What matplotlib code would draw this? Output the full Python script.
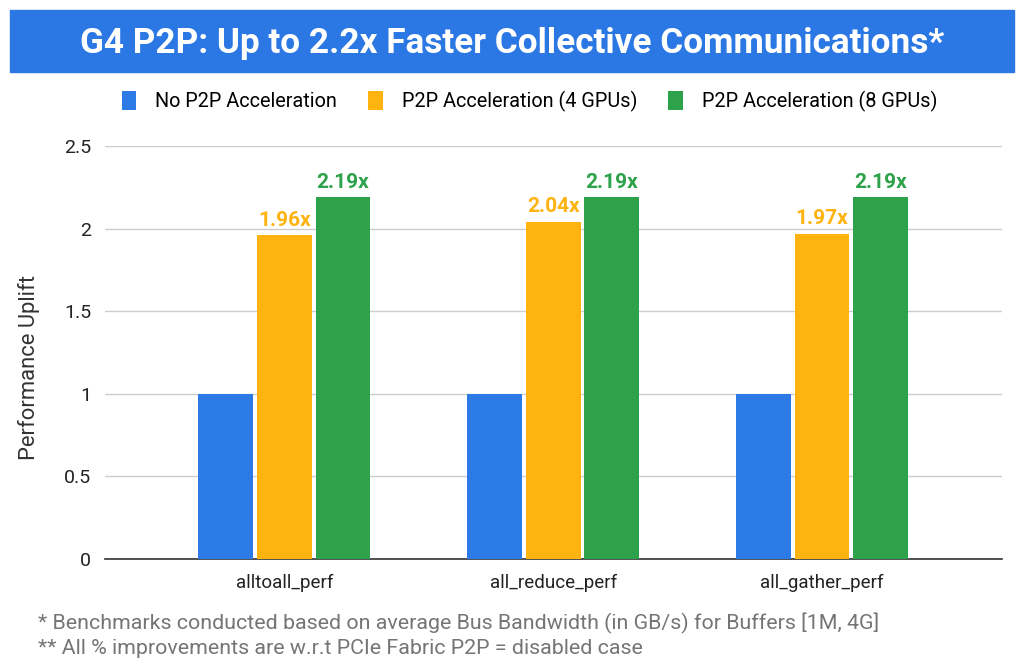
import matplotlib.pyplot as plt
import numpy as np
from matplotlib.patches import Rectangle, Patch

plt.rcParams['font.family'] = ['Roboto', 'DejaVu Sans']

# data
categories = ['alltoall_perf', 'all_reduce_perf', 'all_gather_perf']
series_names = ['No P2P Acceleration', 'P2P Acceleration (4 GPUs)', 'P2P Acceleration (8 GPUs)']
no_p2p = [1.0, 1.0, 1.0]
p2p_4gpu = [1.96, 2.04, 1.97]
p2p_8gpu = [2.19, 2.19, 2.19]
labels_4gpu = ['1.96x', '2.04x', '1.97x']
labels_8gpu = ['2.19x', '2.19x', '2.19x']
yticks = [0, 0.5, 1, 1.5, 2, 2.5]
ytick_labels = ['0', '0.5', '1', '1.5', '2', '2.5']

colors = ['#2B7AE6', '#FFB30F', '#2EA24B']

fig = plt.figure(figsize=(10.24, 6.72), dpi=100)
ax = fig.add_axes([0.1025, 0.168, 0.876, 0.6147])

# title banner
fig.patches.append(Rectangle((10 / 1024, 1 - 72 / 672), 1004 / 1024, 62 / 672,
                             transform=fig.transFigure, color='#2B78E4', zorder=0))
fig.text(0.5, 1 - 43 / 672, 'G4 P2P: Up to 2.2x Faster Collective Communications*',
         ha='center', va='center', color='white', fontsize=25.3, fontweight='bold')

x = np.arange(len(categories))
step = 0.218
width = 0.204
all_series = [no_p2p, p2p_4gpu, p2p_8gpu]
for i, (vals, c) in enumerate(zip(all_series, colors)):
    ax.bar(x + (i - 1) * step, vals, width, color=c, zorder=3)

for xi, v, lab in zip(x, p2p_4gpu, labels_4gpu):
    ax.annotate(lab, (xi, v), xytext=(0, 4), textcoords='offset points',
                ha='center', va='bottom', color=colors[1], fontsize=15, fontweight='bold')
for xi, v, lab in zip(x, p2p_8gpu, labels_8gpu):
    ax.annotate(lab, (xi + step, v), xytext=(0, 4), textcoords='offset points',
                ha='center', va='bottom', color=colors[2], fontsize=15, fontweight='bold')

ax.set_xlim(-0.668, 2.67)
ax.set_ylim(0, 2.5)
ax.set_yticks(yticks)
ax.set_yticklabels(ytick_labels, fontsize=14, color='#222222')
ax.set_xticks(x)
ax.set_xticklabels(categories, fontsize=13.5, color='#222222')
ax.tick_params(length=0, pad=10)
ax.tick_params(axis='x', pad=11)
ax.grid(axis='y', color='#CCCCCC', linewidth=1, zorder=0)
for s in ['top', 'right', 'left']:
    ax.spines[s].set_visible(False)
ax.spines['bottom'].set_color('#333333')
ax.spines['bottom'].set_linewidth(1.2)
ax.set_ylabel('Performance Uplift', fontsize=15.8, color='#333333')
ax.yaxis.set_label_coords(-0.072, 0.465)

handles = [Patch(facecolor=c, edgecolor='none') for c in colors]
fig.legend(handles, series_names, loc='center', bbox_to_anchor=(0.517, 1 - 101 / 672),
           ncol=3, frameon=False, fontsize=14.3, handlelength=0.75, handleheight=1.1,
           handletextpad=0.95, columnspacing=1.55)

fig.text(38 / 1024, 1 - 623 / 672,
         '* Benchmarks conducted based on average Bus Bandwidth (in GB/s) for Buffers [1M, 4G]',
         ha='left', va='center', fontsize=15.4, color='#757575')
fig.text(38 / 1024, 1 - 649 / 672,
         '** All % improvements are w.r.t PCIe Fabric P2P = disabled case',
         ha='left', va='center', fontsize=15.4, color='#757575')

fig.savefig('out.png', dpi=100)
